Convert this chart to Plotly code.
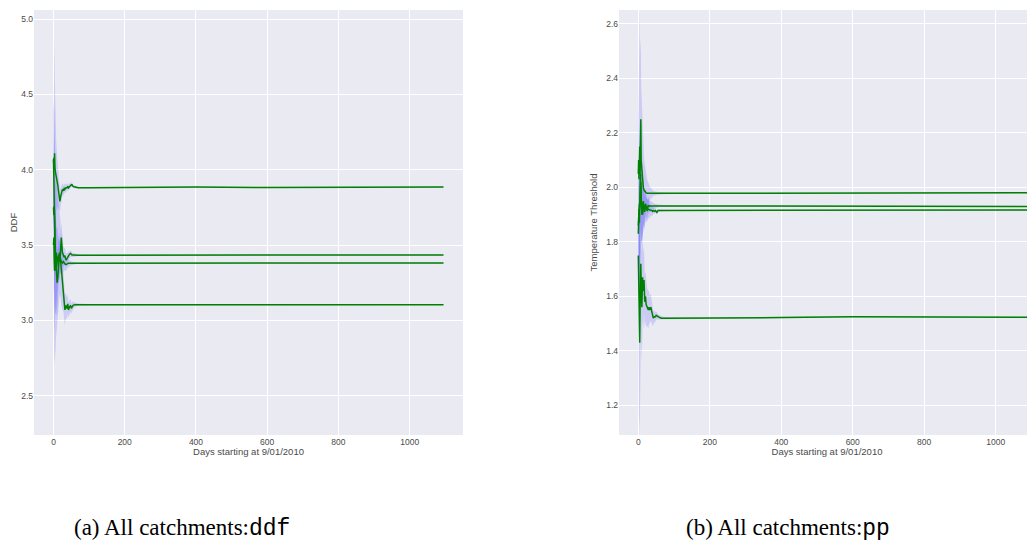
import plotly.graph_objects as go

# ---------------- data ----------------
days = [0, 1, 2, 3, 4, 5, 6, 7, 8, 10, 12, 14, 16, 18, 20, 22, 25, 28, 30, 32, 35, 38,
        40, 42, 45, 48, 50, 52, 55, 60, 65, 70, 100, 200, 400, 600, 800, 1000, 1095]

# DDF panel (a)
ddf_a = [4.05, 4.08, 4.00, 4.11, 4.02, 3.99, 3.98, 3.96, 3.95, 3.92, 3.90, 3.86, 3.82, 3.79, 3.82,
         3.85, 3.87, 3.86, 3.88, 3.87, 3.88, 3.88, 3.89, 3.88, 3.89, 3.90, 3.90, 3.90, 3.89, 3.885,
         3.88, 3.88, 3.88, 3.882, 3.885, 3.882, 3.885, 3.886, 3.886]
ddf_b = [3.50, 3.55, 3.40, 3.33, 3.45, 3.35, 3.42, 3.38, 3.30, 3.25, 3.28, 3.40, 3.42, 3.40, 3.45,
         3.55, 3.45, 3.42, 3.42, 3.43, 3.40, 3.41, 3.42, 3.43, 3.44, 3.445, 3.44, 3.435, 3.435, 3.433,
         3.433, 3.433, 3.433, 3.433, 3.434, 3.434, 3.435, 3.435, 3.435]
ddf_c = [3.75, 3.70, 3.76, 3.60, 3.50, 3.45, 3.38, 3.33, 3.35, 3.40, 3.42, 3.40, 3.39, 3.41, 3.40,
         3.39, 3.38, 3.39, 3.38, 3.375, 3.37, 3.375, 3.38, 3.38, 3.38, 3.38, 3.38, 3.38, 3.38, 3.38,
         3.38, 3.38, 3.38, 3.38, 3.379, 3.377, 3.38, 3.382, 3.382]
ddf_d = [4.07, 3.90, 3.60, 3.50, 3.40, 3.38, 3.35, 3.40, 3.45, 3.40, 3.42, 3.43, 3.44, 3.45, 3.40,
         3.32, 3.25, 3.20, 3.12, 3.07, 3.10, 3.08, 3.11, 3.07, 3.09, 3.10, 3.08, 3.09, 3.10, 3.105,
         3.105, 3.105, 3.105, 3.105, 3.106, 3.105, 3.104, 3.105, 3.105]

ddf_a_hw = [0.30, 0.60, 0.85, 0.75, 0.55, 0.40, 0.32, 0.26, 0.22, 0.18, 0.14, 0.11, 0.09, 0.07, 0.06,
            0.05, 0.04, 0.035, 0.03, 0.03, 0.025, 0.025, 0.02, 0.02, 0.02, 0.015, 0.015, 0.015, 0.01, 0.01,
            0.008, 0.006, 0.004, 0.003, 0.003, 0.003, 0.003, 0.003, 0.003]
ddf_b_hw = [0.30, 0.40, 0.45, 0.40, 0.35, 0.32, 0.30, 0.28, 0.25, 0.22, 0.20, 0.17, 0.15, 0.13, 0.11,
            0.10, 0.08, 0.07, 0.06, 0.05, 0.045, 0.04, 0.035, 0.03, 0.025, 0.02, 0.02, 0.015, 0.012, 0.01,
            0.008, 0.006, 0.004, 0.003, 0.003, 0.003, 0.003, 0.003, 0.003]
ddf_c_hw = [0.30, 0.45, 0.55, 0.50, 0.45, 0.40, 0.35, 0.30, 0.26, 0.22, 0.18, 0.15, 0.12, 0.10, 0.09,
            0.08, 0.07, 0.06, 0.05, 0.045, 0.04, 0.035, 0.03, 0.025, 0.02, 0.015, 0.015, 0.012, 0.01, 0.008,
            0.006, 0.005, 0.004, 0.003, 0.003, 0.003, 0.003, 0.003, 0.003]
ddf_d_hw = [0.30, 0.55, 0.80, 0.75, 0.70, 0.60, 0.55, 0.52, 0.50, 0.45, 0.40, 0.35, 0.30, 0.28, 0.25,
            0.22, 0.18, 0.14, 0.12, 0.10, 0.08, 0.07, 0.06, 0.05, 0.045, 0.04, 0.035, 0.03, 0.025, 0.015,
            0.01, 0.008, 0.005, 0.004, 0.003, 0.003, 0.003, 0.003, 0.003]

# Temperature threshold panel (b)
pp_e = [2.05, 2.10, 2.03, 2.08, 2.15, 2.05, 2.20, 2.25, 2.10, 2.05, 2.02, 2.00, 1.99, 1.985, 1.985,
        1.98, 1.978, 1.978, 1.978, 1.978, 1.978, 1.978, 1.978, 1.978, 1.978, 1.978, 1.978, 1.978, 1.978,
        1.978, 1.978, 1.978, 1.978, 1.978, 1.979, 1.979, 1.98, 1.98, 1.98]
pp_f = [1.83, 1.88, 1.92, 1.87, 1.95, 1.90, 2.05, 2.00, 1.96, 1.90, 1.93, 1.95, 1.92, 1.91, 1.94,
        1.93, 1.92, 1.935, 1.93, 1.932, 1.932, 1.932, 1.932, 1.932, 1.932, 1.932, 1.932, 1.932, 1.932,
        1.932, 1.932, 1.932, 1.932, 1.932, 1.932, 1.931, 1.931, 1.93, 1.93]
pp_g = [1.86, 1.90, 1.88, 1.94, 1.92, 1.98, 1.94, 2.02, 1.95, 1.92, 1.90, 1.92, 1.93, 1.92, 1.925,
        1.92, 1.915, 1.92, 1.918, 1.915, 1.915, 1.915, 1.912, 1.915, 1.912, 1.915, 1.912, 1.908, 1.915,
        1.915, 1.915, 1.915, 1.915, 1.915, 1.915, 1.915, 1.916, 1.917, 1.917]
pp_h = [1.75, 1.60, 1.50, 1.58, 1.43, 1.55, 1.60, 1.72, 1.65, 1.56, 1.67, 1.62, 1.66, 1.58, 1.60,
        1.57, 1.56, 1.55, 1.56, 1.55, 1.56, 1.54, 1.52, 1.52, 1.525, 1.525, 1.53, 1.528, 1.525, 1.522,
        1.52, 1.52, 1.52, 1.52, 1.522, 1.525, 1.525, 1.523, 1.523]

pp_e_hw = [0.20, 0.30, 0.45, 0.50, 0.50, 0.45, 0.35, 0.30, 0.28, 0.25, 0.20, 0.15, 0.12, 0.10, 0.08,
           0.06, 0.05, 0.04, 0.03, 0.025, 0.02, 0.015, 0.012, 0.01, 0.008, 0.008, 0.006, 0.006, 0.005,
           0.004, 0.003, 0.003, 0.002, 0.002, 0.002, 0.002, 0.002, 0.002, 0.002]
pp_f_hw = [0.15, 0.20, 0.25, 0.25, 0.22, 0.20, 0.18, 0.15, 0.13, 0.11, 0.09, 0.08, 0.07, 0.06, 0.05,
           0.04, 0.035, 0.03, 0.025, 0.02, 0.018, 0.015, 0.012, 0.01, 0.008, 0.008, 0.006, 0.006, 0.005,
           0.004, 0.003, 0.003, 0.002, 0.002, 0.002, 0.002, 0.002, 0.002, 0.002]
pp_g_hw = [0.15, 0.20, 0.25, 0.28, 0.25, 0.22, 0.20, 0.18, 0.15, 0.12, 0.10, 0.08, 0.07, 0.06, 0.05,
           0.045, 0.04, 0.035, 0.03, 0.025, 0.02, 0.018, 0.015, 0.012, 0.01, 0.008, 0.008, 0.006, 0.005,
           0.004, 0.003, 0.003, 0.002, 0.002, 0.002, 0.002, 0.002, 0.002, 0.002]
pp_h_hw = [0.20, 0.30, 0.38, 0.42, 0.35, 0.30, 0.28, 0.25, 0.22, 0.20, 0.16, 0.14, 0.12, 0.10, 0.09,
           0.08, 0.07, 0.07, 0.06, 0.05, 0.05, 0.04, 0.03, 0.025, 0.02, 0.018, 0.015, 0.012, 0.01,
           0.008, 0.006, 0.005, 0.003, 0.002, 0.002, 0.002, 0.002, 0.002, 0.002]

x_ticks = [0, 200, 400, 600, 800, 1000]
ddf_ticks = [2.5, 3.0, 3.5, 4.0, 4.5, 5.0]
pp_ticks = [1.2, 1.4, 1.6, 1.8, 2.0, 2.2, 2.4, 2.6]

x_title = "Days starting at 9/01/2010"
caption_a = "(a) All catchments:"
caption_a_code = "ddf"
caption_b = "(b) All catchments:"
caption_b_code = "pp"

# ---------------- figure ----------------
LINE = "green"
BAND = "rgba(0,0,255,0.13)"

fig = go.Figure()


def add_series(vals, hw, xa, ya):
    upper = [v + h for v, h in zip(vals, hw)]
    lower = [v - h for v, h in zip(vals, hw)]
    fig.add_trace(go.Scatter(
        x=days + days[::-1], y=upper + lower[::-1], mode="lines",
        fill="toself", fillcolor=BAND, line=dict(width=0),
        hoverinfo="skip", showlegend=False, xaxis=xa, yaxis=ya))


def add_line(vals, xa, ya):
    fig.add_trace(go.Scatter(
        x=days, y=vals, mode="lines", line=dict(color=LINE, width=1.5),
        showlegend=False, xaxis=xa, yaxis=ya))


for v, h in [(ddf_a, ddf_a_hw), (ddf_b, ddf_b_hw), (ddf_c, ddf_c_hw), (ddf_d, ddf_d_hw)]:
    add_series(v, h, "x", "y")
for v, h in [(pp_e, pp_e_hw), (pp_f, pp_f_hw), (pp_g, pp_g_hw), (pp_h, pp_h_hw)]:
    add_series(v, h, "x2", "y2")
for v in [ddf_a, ddf_b, ddf_c, ddf_d]:
    add_line(v, "x", "y")
for v in [pp_e, pp_f, pp_g, pp_h]:
    add_line(v, "x2", "y2")

# page body has an 8px margin: figure occupies screen (8..1035, 8..544)
OFF = 8
W, H = 1035 - OFF, 544 - OFF


def fx(px):
    return (px - OFF) / W


def fy(py):
    return (H - (py - OFF)) / H


ydom = [fy(435), fy(10)]
tickfont = dict(family="Liberation Sans, Arial, sans-serif", size=8.5, color="#4a4a4a")
titlefont = dict(family="Liberation Sans, Arial, sans-serif", size=9.5, color="#4a4a4a")
axcommon = dict(showgrid=True, gridcolor="white", gridwidth=1, zeroline=False,
                showline=False, ticks="", tickfont=tickfont, automargin=False)

fig.update_layout(
    width=W, height=H, autosize=False,
    margin=dict(l=0, r=0, t=0, b=0, autoexpand=False),
    paper_bgcolor="white", plot_bgcolor="#EAEAF2",
    xaxis=dict(domain=[fx(34), fx(463)], range=[-54.75, 1149.75], tickvals=x_ticks,
               title=dict(text=x_title, font=titlefont, standoff=2),
               anchor="y", **axcommon),
    yaxis=dict(domain=ydom, range=[2.24, 5.06], tickvals=ddf_ticks, tickformat=".1f",
               title=dict(text="DDF", font=titlefont, standoff=6),
               anchor="x", **axcommon),
    xaxis2=dict(domain=[fx(619), 1.0], range=[-54.0, 1110], tickvals=x_ticks,
                title=dict(text=x_title, font=titlefont, standoff=2),
                anchor="y2", **axcommon),
    yaxis2=dict(domain=ydom, range=[1.091, 2.651], tickvals=pp_ticks, tickformat=".1f",
                title=dict(text="Temperature Threshold", font=titlefont, standoff=6),
                anchor="x2", **axcommon),
)

serif = "Liberation Serif, DejaVu Serif, serif"
mono = "Liberation Mono, DejaVu Sans Mono, monospace"
for cx, txt, code in [(182, caption_a, caption_a_code), (788, caption_b, caption_b_code)]:
    fig.add_annotation(
        xref="paper", yref="paper", x=fx(cx), y=fy(528),
        text=txt + '<span style="font-family:' + mono + '">' + code + "</span>",
        showarrow=False, xanchor="center", yanchor="middle",
        font=dict(family=serif, size=23, color="black"))

fig.write_html("out.html")
